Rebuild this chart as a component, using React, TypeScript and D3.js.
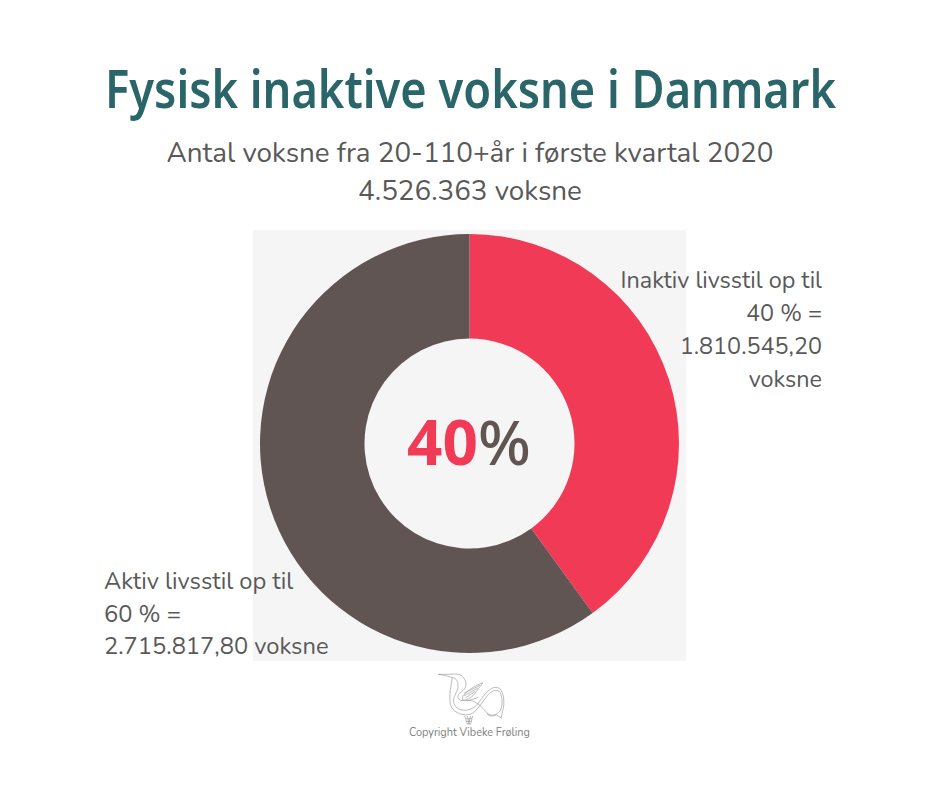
import React from "react";
import * as d3 from "d3";

const categories = ["Inaktiv", "Aktiv"];
const values = [40, 60];
const colors = ["#f13a55", "#605553"];
const title = "Fysisk inaktive voksne i Danmark";
const subtitle = ["Antal voksne fra 20-110+år i første kvartal 2020", "4.526.363 voksne"];
const inactiveLabel = ["Inaktiv livsstil op til", "40 % =", "1.810.545,20", "voksne"];
const activeLabel = ["Aktiv livsstil op til", "60 % =", "2.715.817,80 voksne"];

const logoPaths = [
  "M175 43 C190 45 205 48 217 53 C213 75 208 100 210 125 C212 150 230 162 258 165 C285 165 300 135 320 110 C335 90 352 85 360 97 C368 110 368 135 362 150 C352 165 335 170 322 160 C305 140 285 118 262 122",
  "M175 43 C195 43 212 43 228 42 C245 42 256 55 258 72 C258 85 250 92 238 100 C232 108 232 115 240 120 C255 126 280 118 295 112",
  "M217 53 C225 52 232 60 234 72 C236 85 228 100 222 112 C218 125 222 140 238 148 C262 155 280 148 295 130 C312 105 335 72 358 85 C372 95 375 130 368 152 L364 172",
  "M322 160 C325 172 340 168 350 165 L366 175",
  "M248 108 C265 88 285 78 308 68 C300 82 290 92 282 104 C272 114 258 122 248 120 Z",
  "M252 100 L300 76 M252 108 L294 84 M256 114 L286 94",
  "M254 168 L262 192 L272 192 L278 168 M258 176 L276 176 M260 184 L274 184 M262 168 L268 192 M272 168 L266 192",
];

export default function App() {
  const pie = d3.pie<number>().sort(null)(values);
  const arc = d3.arc<d3.PieArcDatum<number>>().innerRadius(105).outerRadius(209.5);
  const sans = "Nunito, 'Noto Sans', 'Open Sans', sans-serif";
  return (
    <svg width={940} height={788} style={{ position: "absolute", left: 0, top: 0, background: "#fff" }}>
      <text x={470.5} y={108} textAnchor="middle" fontFamily="'Noto Sans', sans-serif" fontWeight={600} fontSize={52} fill="#2a6669" textLength={731} lengthAdjust="spacingAndGlyphs">{title}</text>
      {subtitle.map((s, i) => (
        <text key={s} x={470} y={162 + i * 37.5} textAnchor="middle" fontFamily={sans} fontSize={27.8} fill="#595959">{s}</text>
      ))}
      <rect x={253} y={230} width={433} height={431} fill="#f5f5f5" />
      <g transform="translate(469.5,443.5)">
        {pie.map((p, i) => <path key={categories[i]} d={arc(p) || ""} fill={colors[i]} />)}
      </g>
      <text x={469} y={465} textAnchor="middle" fontFamily="'Noto Sans', sans-serif" fontSize={62}>
        <tspan fill={colors[0]} fontWeight={700}>40</tspan><tspan fill={colors[1]} fontWeight={500}>%</tspan>
      </text>
      {inactiveLabel.map((s, i) => (
        <text key={s} x={822} y={288 + i * 33} textAnchor="end" fontFamily={sans} fontSize={23.4} fill="#595959">{s}</text>
      ))}
      {activeLabel.map((s, i) => (
        <text key={s} x={104} y={589 + i * 32.5} fontFamily={sans} fontSize={23.7} fill="#595959">{s}</text>
      ))}
      <g transform="translate(380,660) scale(0.3333)" fill="none" stroke="#9a9a9a" strokeWidth={2}>
        {logoPaths.map((d, i) => <path key={i} d={d} />)}
      </g>
      <text x={469.5} y={736} textAnchor="middle" fontFamily={sans} fontSize={10.9} fill="#808080">Copyright Vibeke Frøling</text>
    </svg>
  );
}
